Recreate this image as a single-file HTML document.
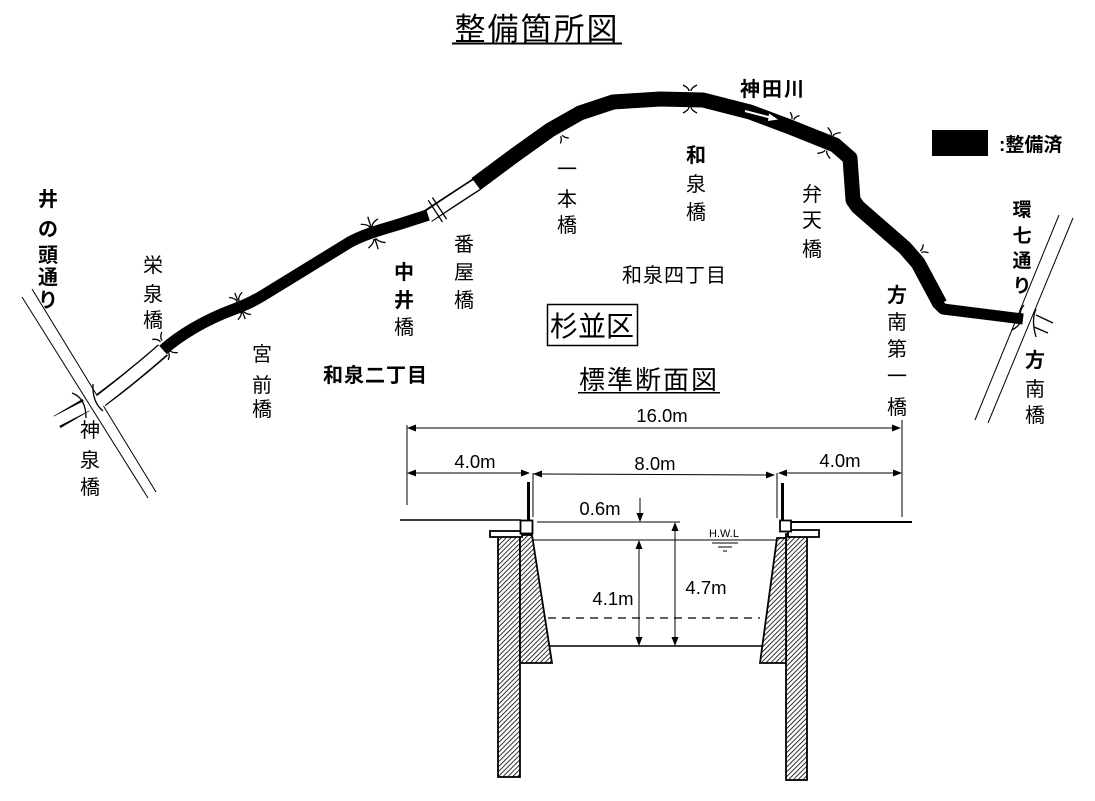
<!DOCTYPE html>
<html><head><meta charset="utf-8"><style>
html,body{margin:0;padding:0;background:#fff}
svg{display:block}
text{font-family:"Liberation Sans","Noto Sans CJK JP",sans-serif;fill:#000}
.j{font-size:20px;text-anchor:middle}
.b{font-weight:bold}
.d{font-size:18.5px;text-anchor:middle;font-family:"Liberation Sans",sans-serif}
</style></head><body>
<svg width="1095" height="801" viewBox="0 0 1095 801" xmlns="http://www.w3.org/2000/svg">
<defs>
<pattern id="h" width="3.4" height="3.4" patternUnits="userSpaceOnUse" patternTransform="rotate(45)">
<rect width="3.4" height="3.4" fill="#fff"/>
<line x1="0" y1="0" x2="0" y2="3.4" stroke="#000" stroke-width="1.6"/>
</pattern>
</defs>

<!-- Title -->
<text x="537" y="40" style="font-size:31px;letter-spacing:2px" text-anchor="middle">整備箇所図</text>
<rect x="452" y="42.5" width="170" height="2" fill="#000"/>

<!-- Roads -->
<line x1="22" y1="297" x2="148" y2="498" stroke="#000" stroke-width="1"/>
<line x1="32" y1="289" x2="156" y2="492" stroke="#000" stroke-width="1"/>
<line x1="1059" y1="215" x2="975" y2="420" stroke="#000" stroke-width="1"/>
<line x1="1073" y1="218" x2="988" y2="423" stroke="#000" stroke-width="1"/>

<!-- River: white (unimproved) sections -->
<g fill="none" stroke-linecap="butt">
<path d="M57 422 L86 405" stroke="#000" stroke-width="14"/>
<path d="M55 422 L88 405" stroke="#fff" stroke-width="11"/>
<path d="M101 400 C120 386,140 370,163 350" stroke="#000" stroke-width="15"/>
<path d="M99 402 C120 386,140 370,165 348" stroke="#fff" stroke-width="12"/>
<path d="M428 216 C445 205,460 195,477 184" stroke="#000" stroke-width="14"/>
<path d="M426 218 C445 205,460 195,479 183" stroke="#fff" stroke-width="11"/>
</g>
<!-- River: black (improved) sections -->
<g fill="none" stroke="#000" stroke-linejoin="round" stroke-linecap="butt">
<path d="M163 350 C180 335,205 320,232 310 C245 305,252 302,262 296 L293 277 L350 242 C365 234,380 230,400 224 L428 215" stroke-width="11.5"/>
<path d="M476 184 L515 155 L550 130 L580 113 L613 102 L660 99 L703 100 L750 112 L790 127 L835 145 L850 158 L853 200 L858 207 L905 248 L918 263 L940 304" stroke-width="15"/>
<path d="M937 303 L943 309 L1023 319" stroke-width="11"/>
</g>
<!-- flow arrow -->
<line x1="745" y1="111" x2="772" y2="118" stroke="#fff" stroke-width="2"/>
<polygon points="778,119.5 769,113.5 768,121" fill="#fff"/>

<!-- Bridges -->
<g fill="none" stroke="#000" stroke-width="1.3">
<g transform="translate(165,346) rotate(-38)"><path d="M-6,-13 Q-1,-10 -1,-6 M6,-13 Q1,-10 1,-6 M-6,13 Q-1,10 -1,6 M6,13 Q1,10 1,6"/></g>
<g transform="translate(240,306) rotate(-22)"><path d="M-7,-12 Q-1,-9 -1,-5 M7,-12 Q1,-9 1,-5 M-7,12 Q-1,9 -1,5 M7,12 Q1,9 1,5 M0,-14 L0,-6 M0,6 L0,14"/></g>
<g transform="translate(373,233) rotate(-18)"><path d="M-9,-12 Q-2,-10 -1,-6 M9,-12 Q2,-10 1,-6 M-9,13 Q-2,10 -1,6 M9,13 Q2,10 1,6 M0,-17 L0,-6 M0,6 L0,17"/></g>
<g transform="translate(557,129) rotate(-33)"><path d="M-5,14 Q-1,11 -1,8 M5,14 Q1,11 1,8"/></g>
<g transform="translate(690,99) rotate(0)"><path d="M-7,-14 Q-1,-11 -1,-8 M7,-14 Q1,-11 1,-8 M-7,14 Q-1,11 -1,8 M7,14 Q1,11 1,8"/></g>
<g transform="translate(790,127) rotate(20)"><path d="M-5,-14 Q-1,-11 -1,-8 M5,-14 Q1,-11 1,-8"/></g>
<g transform="translate(829,143) rotate(22)"><path d="M-7,-14 Q-1,-11 -1,-8 M7,-14 Q1,-11 1,-8 M-7,14 Q-1,11 -1,8 M7,14 Q1,11 1,8"/></g>
<g transform="translate(914,256) rotate(58)"><path d="M-5,-14 Q-1,-11 -1,-8 M5,-14 Q1,-11 1,-8"/></g>
<g transform="translate(437,210) rotate(-33)"><path d="M-2,-13 L-2,13 M3,-13 L3,13"/></g>
<!-- 神泉橋 at road -->
<path d="M93 384 Q92 402 103 411"/>
<path d="M72 393 Q86 398 86 418"/>
<!-- 方南橋 at road -->
<path d="M1024 305 Q1018 312 1022 318 Q1020 326 1012 330"/>
<path d="M1036 309 Q1031 320 1036 337"/>
<path d="M1036 315 L1053 323 M1034 327 L1048 333"/>
</g>

<!-- Legend -->
<rect x="932" y="130" width="56" height="26" fill="#000"/>
<text x="999" y="151" class="b" style="font-size:19px">:整備済</text>

<!-- Map labels -->
<g class="j b">
<text x="48" y="206">井</text><text x="48" y="236">の</text><text x="48" y="262">頭</text><text x="48" y="284">通</text><text x="48" y="307">り</text>
</g>
<g class="j">
<text x="153" y="272">栄</text><text x="153" y="301">泉</text><text x="153" y="327">橋</text>
<text x="90" y="437">神</text><text x="90" y="467">泉</text><text x="90" y="494">橋</text>
<text x="262" y="361">宮</text><text x="262" y="392">前</text><text x="262" y="416">橋</text>
<text x="404" y="279" class="b">中</text><text x="404" y="307" class="b">井</text><text x="404" y="334">橋</text>
<text x="464" y="251">番</text><text x="464" y="279">屋</text><text x="464" y="307">橋</text>
<text x="567" y="176">一</text><text x="567" y="206">本</text><text x="567" y="232">橋</text>
<text x="696" y="162" class="b">和</text><text x="696" y="191">泉</text><text x="696" y="219">橋</text>
<text x="812" y="201">弁</text><text x="812" y="227">天</text><text x="812" y="256">橋</text>
<text x="897" y="302" class="b">方</text><text x="897" y="329">南</text><text x="897" y="356">第</text><text x="897" y="383">一</text><text x="897" y="414">橋</text>
<text x="1035" y="367" class="b">方</text><text x="1035" y="396">南</text><text x="1035" y="422">橋</text>
</g>
<g class="j b" style="font-size:19px">
<text x="1022" y="216">環</text><text x="1022" y="242">七</text><text x="1022" y="267">通</text><text x="1022" y="292">り</text>
</g>
<text x="323" y="382" class="b" style="font-size:20px;letter-spacing:1px">和泉二丁目</text>
<text x="622" y="282" style="font-size:20px;letter-spacing:1px">和泉四丁目</text>
<text x="740" y="96" class="b" style="font-size:20px;letter-spacing:2px">神田川</text>

<rect x="547.5" y="304.5" width="90" height="41" fill="none" stroke="#000" stroke-width="1.5"/>
<text x="592" y="336" style="font-size:28px" text-anchor="middle">杉並区</text>

<text x="649" y="389" style="font-size:26px;letter-spacing:2px" text-anchor="middle">標準断面図</text>
<rect x="578" y="392" width="142" height="1.5" fill="#000"/>

<!-- Cross-section dimensions -->
<g stroke="#000" stroke-width="1" fill="none">
<line x1="407" y1="425" x2="407" y2="505"/>
<line x1="902" y1="420" x2="902" y2="517"/>
<line x1="415" y1="428" x2="893" y2="428"/>
<line x1="415" y1="473" x2="522" y2="473"/>
<line x1="541" y1="474" x2="767" y2="475"/>
<line x1="786" y1="473" x2="894" y2="473"/>
<line x1="533" y1="473" x2="533" y2="517"/>
<line x1="777" y1="473" x2="777" y2="518"/>
</g>
<g fill="#000">
<polygon points="407,428 416,424.5 416,431.5"/>
<polygon points="901,428 892,424.5 892,431.5"/>
<polygon points="407,473 416,469.5 416,476.5"/>
<polygon points="530,473 521,469.5 521,476.5"/>
<polygon points="533,474 542,470.5 542,477.5"/>
<polygon points="775,475 766,471.5 766,478.5"/>
<polygon points="778,473 787,469.5 787,476.5"/>
<polygon points="902,473 893,469.5 893,476.5"/>
</g>
<text x="662" y="422" class="d">16.0m</text>
<text x="475" y="468" class="d">4.0m</text>
<text x="655" y="470" class="d">8.0m</text>
<text x="840" y="467" class="d">4.0m</text>
<text x="600" y="515" class="d">0.6m</text>
<text x="613" y="605" class="d">4.1m</text>
<text x="706" y="594" class="d">4.7m</text>
<text x="724" y="537" style="font-size:11px;font-family:'Liberation Sans',sans-serif" text-anchor="middle">H.W.L</text>

<!-- Walls -->
<g stroke="#000">
<line x1="528.5" y1="482" x2="528.5" y2="520" stroke-width="3"/>
<line x1="782.5" y1="483" x2="782.5" y2="521" stroke-width="3"/>
<line x1="400" y1="520" x2="521" y2="520" stroke-width="1.5"/>
<line x1="782" y1="522" x2="912" y2="522" stroke-width="2"/>
<line x1="537" y1="522" x2="680" y2="522" stroke-width="1"/>
<line x1="532" y1="540" x2="777" y2="540" stroke-width="1"/>
<line x1="712" y1="543" x2="738" y2="543" stroke-width="1"/>
<line x1="718" y1="547" x2="732" y2="547" stroke-width="1"/>
<line x1="723" y1="551" x2="727" y2="551" stroke-width="1"/>
<line x1="548" y1="618" x2="760" y2="618" stroke-width="1.3" stroke-dasharray="8,6"/>
<line x1="550" y1="646" x2="762" y2="646" stroke-width="1.5"/>
<line x1="640" y1="498" x2="640" y2="514" stroke-width="1"/>
<line x1="639" y1="548" x2="639" y2="638" stroke-width="1"/>
<line x1="675" y1="530" x2="675" y2="638" stroke-width="1"/>
</g>
<g fill="#000">
<polygon points="640,522 636.5,513 643.5,513"/>
<polygon points="639,540 635.5,549 642.5,549"/>
<polygon points="639,646 635.5,637 642.5,637"/>
<polygon points="675,522 671.5,531 678.5,531"/>
<polygon points="675,646 671.5,637 678.5,637"/>
</g>
<g stroke="#000" stroke-width="1.8">
<rect x="498" y="535" width="22" height="242" fill="url(#h)"/>
<polygon points="520,535 532,535 552,663 520,663" fill="url(#h)"/>
<rect x="490" y="531" width="32" height="6" fill="#fff"/>
<rect x="520.5" y="520.5" width="12" height="13" fill="#fff"/>
<rect x="786" y="534" width="21" height="246" fill="url(#h)"/>
<polygon points="777,538 786,538 786,663 760,663" fill="url(#h)"/>
<rect x="788" y="530" width="31" height="7" fill="#fff"/>
<rect x="780" y="520.5" width="11" height="11" fill="#fff"/>
</g>
</svg>
</body></html>
